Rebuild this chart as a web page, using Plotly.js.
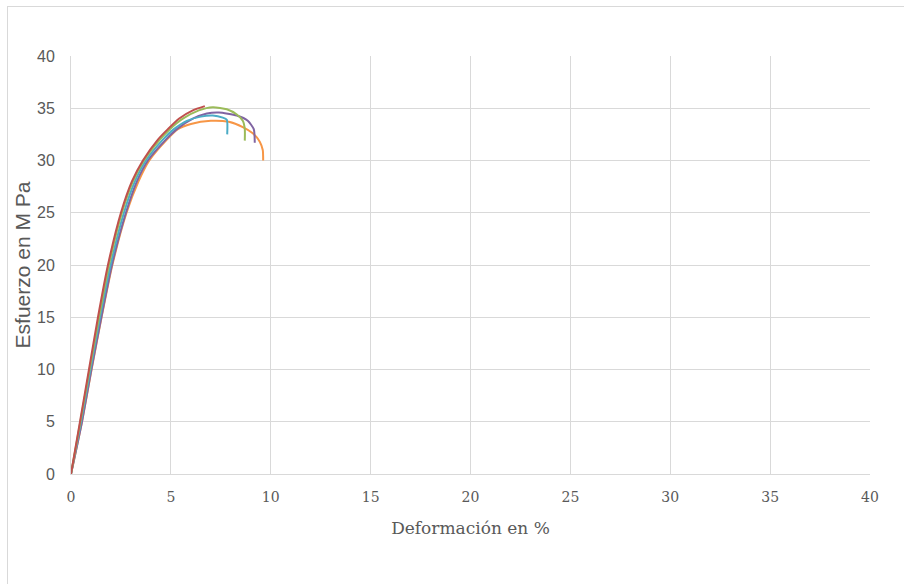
<!DOCTYPE html>
<html>
<head>
<meta charset="utf-8">
<script src="https://cdn.plot.ly/plotly-3.0.1.min.js"></script>
<style>
  html, body { margin: 0; padding: 0; background: #fff; }
  #wrap { position: relative; width: 904px; height: 584px; }
  #chart { position: absolute; left: 0; top: 0; width: 904px; height: 584px; }
  #frame { position: absolute; left: 7px; top: 6px; right: 0; bottom: 0;
           border-top: 1px solid #d9d9d9; border-left: 1px solid #d9d9d9; pointer-events: none; }
</style>
</head>
<body>
<div id="wrap"><div id="chart"></div><div id="frame"></div></div>
<script>
// Data (strain in %, stress in MPa)
const redX = [0, 0.45, 0.9, 1.35, 1.85, 2.5, 3.05, 3.6, 4.35, 4.85, 5.4, 6.1, 6.7];
const redY = [0, 5, 10, 15, 20, 25, 28, 30, 32, 33, 34, 34.8, 35.2];

const greenX = [0, 0.47, 0.93, 1.4, 1.9, 2.55, 3.1, 3.65, 4.45, 4.95, 5.6, 6.4, 7.1, 7.8, 8.3, 8.6, 8.7, 8.7];
const greenY = [0, 5, 10, 15, 20, 25, 28, 30, 32, 33, 34, 34.8, 35.1, 34.9, 34.4, 33.8, 33.0, 31.9];

const aquaX = [0, 0.5, 0.97, 1.45, 1.98, 2.65, 3.2, 3.75, 4.6, 5.15, 5.8, 6.5, 7.1, 7.6, 7.8, 7.82];
const aquaY = [0, 5, 10, 15, 20, 25, 28, 30, 32, 33, 33.8, 34.2, 34.3, 34.1, 33.9, 32.5];

const purpleX = [0, 0.55, 1.02, 1.52, 2.05, 2.75, 3.3, 3.85, 4.75, 5.3, 6.1, 6.8, 7.4, 8.3, 8.85, 9.15, 9.2];
const purpleY = [0, 5, 10, 15, 20, 25, 28, 30, 32, 33, 34, 34.5, 34.6, 34.3, 33.8, 33.0, 31.7];

const orangeX = [0, 0.55, 1.03, 1.53, 2.07, 2.78, 3.38, 3.92, 4.8, 5.35, 6.0, 7.0, 7.9, 8.6, 9.1, 9.45, 9.6, 9.62];
const orangeY = [0, 5, 10, 15, 20, 25, 28, 30, 32, 33, 33.5, 33.8, 33.7, 33.2, 32.6, 31.8, 31.0, 30.0];

const xTicks = [0, 5, 10, 15, 20, 25, 30, 35, 40];
const yTicks = [0, 5, 10, 15, 20, 25, 30, 35, 40];

function line(x, y, color) {
  return { x: x, y: y, type: 'scatter', mode: 'lines',
           line: { color: color, width: 2, shape: 'spline', smoothing: 0.6 },
           hoverinfo: 'skip' };
}

const data = [
  line(orangeX, orangeY, '#F79646'),
  line(purpleX, purpleY, '#8064A2'),
  line(aquaX, aquaY, '#4BACC6'),
  line(greenX, greenY, '#9BBB59'),
  line(redX, redY, '#C0504D')
];

const layout = {
  width: 904, height: 584,
  margin: { l: 71, r: 34, t: 56, b: 110 },
  paper_bgcolor: '#ffffff', plot_bgcolor: '#ffffff',
  showlegend: false,
  xaxis: {
    range: [0, 40], tickvals: xTicks, ticktext: xTicks.map(String),
    showgrid: true, gridcolor: '#d9d9d9', gridwidth: 1,
    showline: true, linecolor: '#d9d9d9', linewidth: 1,
    zeroline: false, ticks: '', ticklabelstandoff: 10,
    tickfont: { family: 'DejaVu Serif, serif', size: 14, color: '#595959' },
    title: { text: 'Deformación en %', standoff: 18,
             font: { family: 'DejaVu Serif, serif', size: 17, color: '#595959' } }
  },
  yaxis: {
    range: [0, 40], tickvals: yTicks, ticktext: yTicks.map(String),
    showgrid: true, gridcolor: '#d9d9d9', gridwidth: 1,
    showline: true, linecolor: '#d9d9d9', linewidth: 1,
    zeroline: false, ticks: '', ticklabelstandoff: 12,
    tickfont: { family: 'Liberation Sans, Arial, sans-serif', size: 16, color: '#595959' },
    title: { text: 'Esfuerzo en M Pa', standoff: 0,
             font: { family: 'Liberation Sans, Arial, sans-serif', size: 21, color: '#595959' } }
  }
};

Plotly.newPlot('chart', data, layout, { displayModeBar: false, staticPlot: true });
</script>
</body>
</html>
